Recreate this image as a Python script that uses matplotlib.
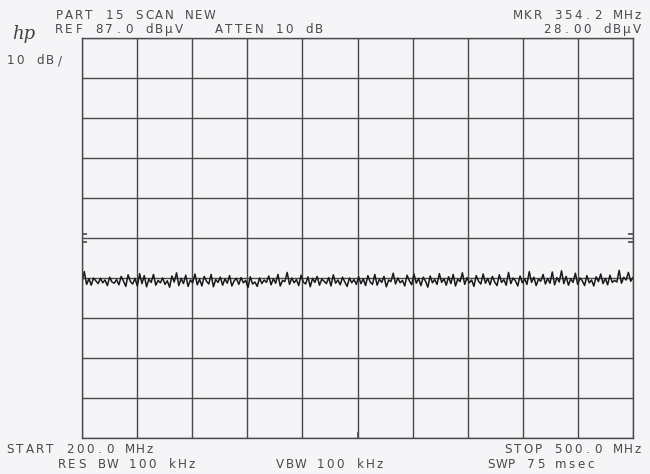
import numpy as np
import matplotlib.pyplot as plt

W, H = 650, 474

# sweep settings
start_mhz = 200.0
stop_mhz = 500.0
ref_level = 87.0
db_per_div = 10

# trace levels (dBuV), left to right
levels = [
    26.0, 28.6, 25.4, 26.8, 25.2, 27.0, 26.3, 25.6, 26.9, 25.8, 26.5, 25.1, 27.2, 26.0, 25.7, 26.6, 25.3, 27.4, 26.2, 24.9,
    27.8, 26.1, 25.5, 26.9, 25.0, 28.1, 25.6, 27.6, 24.8, 26.7, 25.9, 27.9, 25.2, 26.4, 25.8, 27.0, 25.4, 26.3, 24.7, 27.5,
    26.0, 28.3, 25.1, 26.9, 25.6, 27.7, 24.9, 26.5, 25.8, 28.0, 25.3, 26.7, 25.0, 27.4, 26.2, 25.5, 27.9, 24.8, 26.6, 25.9,
    27.2, 25.2, 26.8, 25.7, 27.6, 25.0, 26.3, 26.9, 25.4, 27.1, 25.8, 26.4, 24.6, 27.3, 25.5, 26.0, 24.9, 27.0, 25.6, 26.5,
    25.9, 27.5, 25.3, 26.8, 25.7, 27.9, 25.0, 26.4, 26.1, 28.4, 25.4, 27.0, 25.8, 26.6, 25.1, 27.7, 26.0, 25.5, 27.3, 24.8,
    26.9, 25.9, 27.4, 25.2, 26.7, 26.2, 25.6, 27.1, 25.0, 27.8, 25.7, 26.5, 25.3, 27.2, 26.0, 24.9, 27.0, 25.8, 26.6, 25.4,
    27.3, 25.6, 26.8, 25.1, 27.6, 26.0, 25.4, 27.9, 25.2, 26.7, 25.9, 27.4, 24.8, 26.5, 26.1, 28.2, 25.5, 27.0, 25.8, 26.4,
    25.0, 27.7, 26.3, 25.3, 28.0, 25.7, 26.9, 25.1, 27.2, 26.2, 24.7, 27.5, 25.8, 26.6, 25.4, 28.1, 25.9, 26.8, 25.2, 27.3,
    25.6, 27.9, 25.0, 26.7, 26.1, 28.3, 25.4, 27.1, 25.8, 26.5, 24.9, 27.6, 26.2, 25.5, 28.0, 25.7, 26.9, 25.3, 27.4, 26.0,
    25.1, 27.8, 25.9, 26.6, 25.2, 28.4, 25.6, 27.0, 26.3, 25.0, 27.5, 25.8, 26.8, 25.4, 28.6, 25.9, 27.2, 25.1, 26.7, 26.2,
    27.9, 25.5, 26.9, 25.7, 28.5, 25.3, 27.1, 26.0, 28.8, 25.6, 27.4, 25.2, 26.8, 25.9, 28.2, 25.4, 27.0, 26.3, 25.1, 27.6,
    25.8, 26.5, 25.0, 27.3, 26.1, 28.0, 25.6, 26.9, 25.3, 27.7, 25.9, 26.4, 26.0, 28.9, 25.7, 27.2, 26.5, 28.4, 26.2, 27.1,
]

# screen annotation lines: (text, anchor px, baseline px, side)
labels = [
    ("PART 15 SCAN NEW", 55, 19, 'left'),
    ("REF 87.0 dBµV   ATTEN 10 dB", 55, 33, 'left'),
    ("MKR 354.2 MHz", 642, 19, 'right'),
    ("28.00 dBµV", 641, 33, 'right'),
    ("10 dB/", 6, 64, 'left'),
    ("START 200.0 MHz", 6, 453, 'left'),
    ("STOP 500.0 MHz", 642, 453, 'right'),
    ("RES BW 100 kHz", 58, 468, 'left'),
    ("VBW 100 kHz", 276, 468, 'left'),
    ("SWP 75 msec", 487, 468, 'left'),
]

bg = '#f5f5f7'
ink = '#4a4a4a'
grid_col = '#4a4a4a'
PITCH = 10.0
GLYPH = 8.0


def hp_line(fig, text, x, y, side='left', size=8.6):
    # the analyser font is monospaced and wide, so each glyph gets its own cell
    if side == 'right':
        x = x - GLYPH - (len(text) - 1) * PITCH
    for i, ch in enumerate(text):
        if ch == ' ':
            continue
        fig.text((x + GLYPH / 2 + i * PITCH) / W, 1 - y / H, ch, ha='center',
                 va='baseline', fontsize=size, color=ink,
                 family='DejaVu Sans')


fig = plt.figure(figsize=(W / 100, H / 100), dpi=100, facecolor=bg)
ax = fig.add_axes([82 / W, 1 - 438 / H, 551 / W, 400 / H])
ax.set_facecolor(bg)

freqs = np.linspace(start_mhz, stop_mhz, len(levels))
ax.plot(freqs, levels, color='#1a1a1a', lw=1.1)

ax.set_xlim(start_mhz, stop_mhz)
ax.set_ylim(ref_level - 10 * db_per_div, ref_level)
ax.set_xticks(np.linspace(start_mhz, stop_mhz, 11))
ax.set_yticks(np.arange(ref_level - 10 * db_per_div, ref_level + 1, db_per_div))
ax.grid(True, color=grid_col, lw=1.0)
ax.tick_params(length=0, labelbottom=False, labelleft=False)
for s in ax.spines.values():
    s.set_color(grid_col)
    s.set_linewidth(1.0)

# small reference marks at the edges of the graticule
mid = ref_level - 5 * db_per_div
ax.hlines([mid + 1, mid - 1], start_mhz, start_mhz + 2.7, color=grid_col, lw=1.2)
ax.hlines([mid + 1, mid - 1], stop_mhz - 2.7, stop_mhz, color=grid_col, lw=1.2)
ax.vlines(350, ref_level - 100, ref_level - 98.5, color=grid_col, lw=1.2)

for text, x, y, side in labels:
    hp_line(fig, text, x, y, side)

fig.text(24 / W, 1 - 39 / H, 'hp', ha='center', va='baseline', fontsize=13,
         style='italic', family='DejaVu Serif', color='#404040')

fig.savefig('out.png', dpi=100, facecolor=bg)
